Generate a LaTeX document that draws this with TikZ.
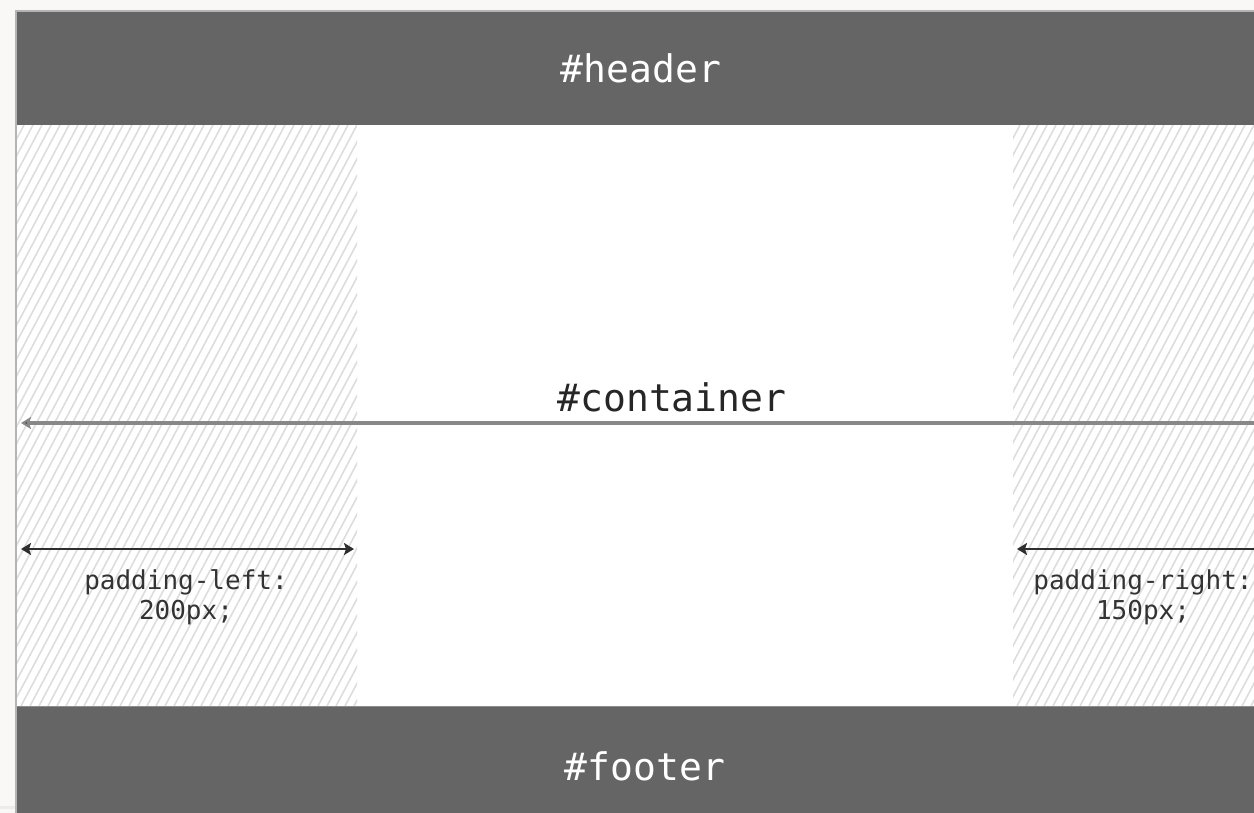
\documentclass[tikz,border=0pt]{standalone}
\usepackage{fontspec}
\setmonofont{DejaVu Sans Mono}
\newfontfamily\titlefont{DejaVu Sans Mono}
\usetikzlibrary{arrows.meta}
\definecolor{pagebg}{HTML}{F9F8F6}
\definecolor{bar}{HTML}{656565}
\definecolor{hatch}{HTML}{DDDDDD}
\definecolor{edge}{HTML}{B4B4B4}
\definecolor{contline}{HTML}{888888}
\definecolor{dimline}{HTML}{2E2E2E}
\tikzset{
  bartext/.style={text=white,font=\titlefont\fontsize{38}{44}\selectfont,inner sep=0pt},
  conttext/.style={text=black!85,font=\titlefont\fontsize{38}{44}\selectfont,inner sep=0pt},
  padtext/.style={text=black!80,font=\ttfamily\fontsize{26}{30}\selectfont,align=center,inner sep=0pt},
  hatchline/.style={draw=hatch,line width=1.6pt},
  contarrow/.style={draw=contline,line width=3.2pt,-{Stealth[length=10pt,width=12pt,inset=2pt,fill=black!70]}},
  dimarrow/.style={draw=dimline,line width=2.4pt,{Stealth[length=10pt,width=12pt,inset=2pt]}-{Stealth[length=10pt,width=12pt,inset=2pt]}},
  dimarrowl/.style={draw=dimline,line width=2.4pt,-{Stealth[length=10pt,width=12pt,inset=2pt]}}
}
\begin{document}
\begin{tikzpicture}[x=1pt,y=-1pt]
\useasboundingbox (0,0) rectangle (1254,813);
\fill[pagebg] (0,0) rectangle (1254,813);
\fill[white] (17,12) rectangle (1254,813);
% hatched paddings
\begin{scope}
\clip (17,125) rectangle (357,706);
\foreach \i in {0,...,75} \draw[hatchline] (17-320+\i*9,706) -- ++(309,-581);
\end{scope}
\begin{scope}
\clip (1013,125) rectangle (1254,706);
\foreach \i in {0,...,64} \draw[hatchline] (1013-320+\i*9,706) -- ++(309,-581);
\end{scope}
% frame edges
\fill[edge] (15,10) rectangle (17,813);
\fill[edge] (15,10) rectangle (1254,12);
\fill[pagebg!90!gray] (0,806) rectangle (15,809);
% header and footer
\fill[bar] (17,12) rectangle (1254,125);
\fill[bar] (17,706) rectangle (1254,813);
\draw[black!45,line width=1pt] (17,706) -- (1254,706);
\node[bartext] (header) at (641,68) {\#header};
\node[bartext] (footer) at (645,766) {\#footer};
\node[conttext] (container) at (672,397) {\#container};
% container arrow
\coordinate (cR) at (1256,423);
\coordinate (cL) at (21,423);
\draw[contarrow] (cR) -- (cL);
% padding left
\coordinate (plL) at (21,549);
\coordinate (plR) at (354,549);
\draw[dimarrow] (plL) -- (plR);
\node[padtext] (pl) at (186,597) {padding-left:\\200px;};
% padding right
\coordinate (prR) at (1256,549);
\coordinate (prL) at (1017,549);
\draw[dimarrowl] (prR) -- (prL);
\node[padtext] (pr) at (1143,597) {padding-right:\\150px;};
\end{tikzpicture}
\end{document}
